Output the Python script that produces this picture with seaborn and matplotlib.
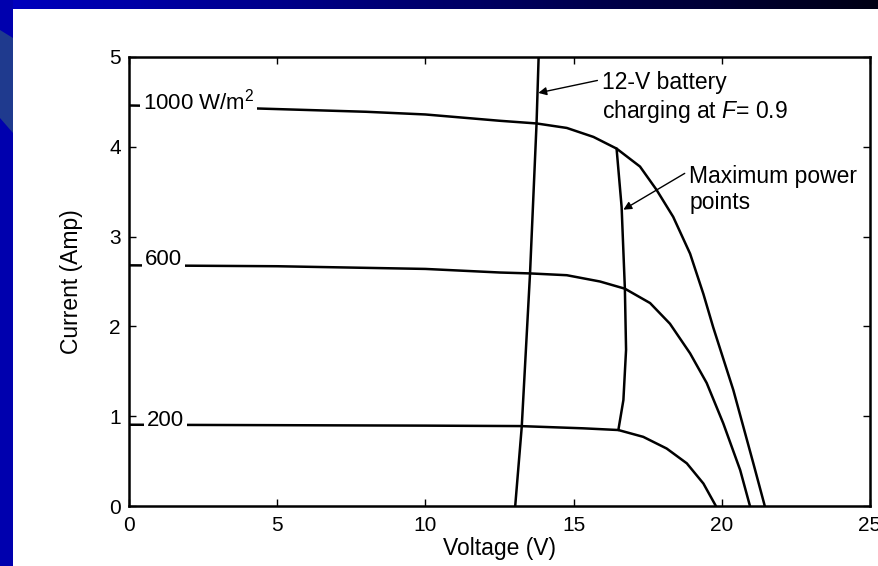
import numpy as np
import pandas as pd
import matplotlib
matplotlib.use("Agg")
import matplotlib.pyplot as plt
from matplotlib.patches import Rectangle, Polygon
import seaborn as sns

# I-V curves of a PV module at three irradiance levels (voltage V, current A)
v_1000 = [0, 2, 5, 8, 10, 12.5, 13.75, 14.77, 15.67, 16.45, 17.24, 17.80,
          18.36, 18.93, 19.38, 19.71, 20.39, 21.06, 21.45]
i_1000 = [4.46, 4.45, 4.42, 4.39, 4.36, 4.29, 4.26, 4.21, 4.11, 3.98, 3.78, 3.52,
          3.22, 2.81, 2.36, 1.99, 1.29, 0.48, 0.0]

v_600 = [0, 5, 10, 12.52, 13.53, 14.77, 15.89, 16.73, 17.58, 18.25, 18.93,
         19.49, 20.05, 20.62, 20.95]
i_600 = [2.68, 2.67, 2.64, 2.60, 2.59, 2.57, 2.50, 2.42, 2.26, 2.03, 1.70,
         1.37, 0.92, 0.40, 0.0]

v_200 = [0, 5, 10, 13.19, 15.33, 16.51, 17.35, 18.14, 18.82, 19.38, 19.80]
i_200 = [0.905, 0.90, 0.895, 0.89, 0.865, 0.846, 0.77, 0.64, 0.475, 0.25, 0.0]

# 12-V battery load line (F = 0.9)
v_batt = [13.03, 13.25, 13.53, 13.75, 13.82]
i_batt = [0.0, 0.88, 2.59, 4.26, 5.0]

# locus of maximum power points
v_mpp = [16.45, 16.62, 16.73, 16.77, 16.68, 16.51]
i_mpp = [3.98, 3.33, 2.42, 1.74, 1.18, 0.846]

curve_labels = ["1000 W/m$^2$", "600", "200"]
x_ticks = [0, 5, 10, 15, 20, 25]
y_ticks = [0, 1, 2, 3, 4, 5]

sns.set_theme(style="ticks")
plt.rcParams["font.family"] = ["Liberation Sans", "DejaVu Sans"]
plt.rcParams["mathtext.fontset"] = "custom"
plt.rcParams["mathtext.rm"] = "Liberation Sans"
plt.rcParams["mathtext.it"] = "Liberation Sans:italic"
plt.rcParams["mathtext.default"] = "regular"

W, H = 879, 566
fig = plt.figure(figsize=(W / 100, H / 100), dpi=100, facecolor="white")

# slide frame: blue left strip with lighter wedge, dark gradient band on top
fig.patches.append(Rectangle((0, 0), 13 / W, 1, transform=fig.transFigure,
                             facecolor="#0000ae", edgecolor="none", zorder=0))
fig.patches.append(Polygon([(0, 1 - 30 / H), (13 / W, 1 - 38 / H),
                            (13 / W, 1 - 133 / H), (0, 1 - 118 / H)],
                           closed=True, transform=fig.transFigure,
                           facecolor="#1f3a8e", edgecolor="none", zorder=0))
band = fig.add_axes([0, 1 - 9 / H, 1, 9 / H])
grad = np.linspace(0, 1, 256)[None, :]
c0 = np.array([0x00, 0x00, 0xc0]) / 255
c1 = np.array([0x00, 0x00, 0x14]) / 255
img = c0[None, None, :] * (1 - grad[..., None]) + c1[None, None, :] * grad[..., None]
band.imshow(img, aspect="auto", extent=[0, 1, 0, 1])
band.set_axis_off()

ax = fig.add_axes([129 / W, 1 - 506 / H, (870 - 129) / W, (506 - 57) / H])
ax.set_facecolor("white")

lw = 1.8
for vv, ii in [(v_1000, i_1000), (v_600, i_600), (v_200, i_200),
               (v_batt, i_batt), (v_mpp, i_mpp)]:
    sns.lineplot(x=vv, y=ii, ax=ax, color="black", linewidth=lw,
                 sort=False, estimator=None, zorder=2)
for line in ax.get_lines():
    line.set_solid_joinstyle("round")

ax.set_xlim(0, 25)
ax.set_ylim(0, 5)
ax.set_xticks(x_ticks)
ax.set_yticks(y_ticks)
ax.tick_params(axis="both", direction="in", top=True, right=True,
               length=5, width=1, colors="black", labelsize=15)
ax.tick_params(axis="x", pad=7)
ax.tick_params(axis="y", pad=6)
for s in ax.spines.values():
    s.set_linewidth(1.8)
    s.set_color("black")

ax.set_xlabel("Voltage (V)", fontsize=16.5, labelpad=2, color="black")
ax.set_ylabel("Current (Amp)", fontsize=16.5, labelpad=19, color="black")

# irradiance labels sitting on the curves
label_pos = [(0.47, 4.50), (0.54, 2.74), (0.61, 0.95)]
for txt, (x, y) in zip(curve_labels, label_pos):
    ax.text(x, y, txt, ha="left", va="center", fontsize=16, color="black",
            zorder=3, bbox=dict(facecolor="white", edgecolor="none", pad=2))

arrow = dict(arrowstyle="-|>", color="black", lw=1.0, mutation_scale=12,
             shrinkA=1, shrinkB=0)
ax.annotate("12-V battery\ncharging at $\\mathit{F}$= 0.9", xy=(13.81, 4.6),
            xytext=(15.96, 4.84), ha="left", va="top", fontsize=16.5,
            color="black", linespacing=1.2,
            arrowprops=dict(arrow, relpos=(0, 0.85)), zorder=4)
ax.annotate("Maximum power\npoints", xy=(16.68, 3.30),
            xytext=(18.9, 3.80), ha="left", va="top", fontsize=16.5,
            color="black", linespacing=1.2,
            arrowprops=dict(arrow, relpos=(0, 0.88)), zorder=4)

fig.savefig("out.png", dpi=100, facecolor=fig.get_facecolor())
